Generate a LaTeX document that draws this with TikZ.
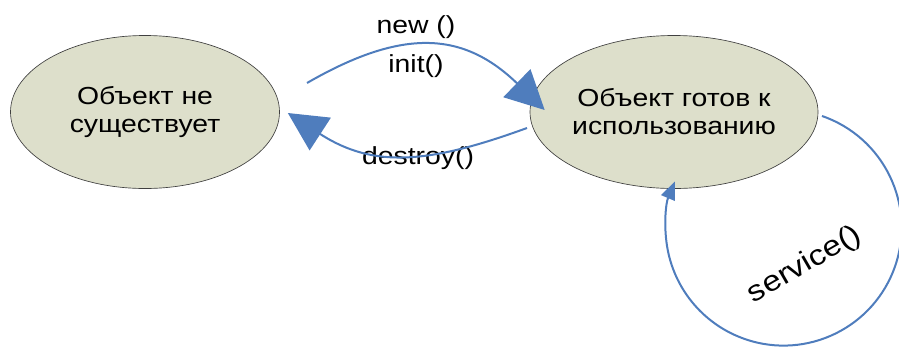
\documentclass[tikz,border=0pt]{standalone}
\usepackage{fontspec}
\setmainfont[FakeStretch=1.15]{Liberation Sans}
\usetikzlibrary{shapes.geometric,arrows.meta}

\definecolor{statefill}{RGB}{221,223,203}
\definecolor{flowblue}{RGB}{79,125,189}

\begin{document}
\begin{tikzpicture}[x=0.75pt,y=0.75pt]
\tikzstyle{state}=[ellipse,draw=black!75,line width=0.5pt,fill=statefill,
  minimum width=201.75pt,minimum height=114.75pt,inner sep=0pt,align=center,
  font=\fontsize{18.5}{21}\selectfont]
\tikzstyle{flow}=[draw=flowblue,line width=1.5pt,
  -{Triangle[length=29pt,width=29pt]}]
\tikzstyle{selfflow}=[draw=flowblue,line width=1.5pt,
  -{Triangle[length=13.5pt,width=11pt]}]
\tikzstyle{lbl}=[inner sep=0pt,font=\fontsize{18.5}{21}\selectfont]

\useasboundingbox (0,0) rectangle (899,-351);

%% Draw the two states
\node [state] (absent) at (145,-112) {Объект не\\существует};
\node [state] (ready) at (674,-112) {Объект готов к\\использованию};

%% Free ends of the connectors
\coordinate (newstart) at (307,-83);
\coordinate (destroystart) at (527,-128);
\coordinate (servicestart) at (822,-116);

%% Labels
\node [lbl] (newlbl) at (416,-27) {new ()};
\node [lbl] (initlbl) at (416,-66) {init()};
\node [lbl] (destroylbl) at (418,-158) {destroy()};
\node [lbl,rotate=30,font=\fontsize{21.5}{24}\selectfont] (servicelbl) at (805,-265) {service()};

%% Draw transitions
\draw [flow] (newstart) to[out=30,in=136,looseness=1.2] ([shift={(15,2)}]ready.west);
\draw [flow] (destroystart) to[out=200,in=-33,looseness=1.1] ([shift={(8,-1)}]absent.east);
\draw [selfflow] (servicestart) arc[start angle=71,end angle=-203,radius=118];
\end{tikzpicture}
\end{document}
